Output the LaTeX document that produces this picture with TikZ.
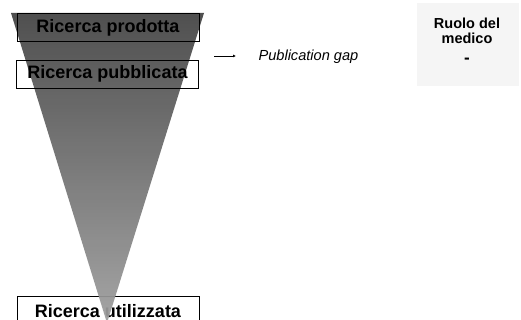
\documentclass[tikz,border=0pt]{standalone}
\usepackage{fontspec}
\setmainfont{Liberation Sans}
\usetikzlibrary{arrows.meta}
\begin{document}
\begin{tikzpicture}[x=1pt,y=-1pt,
  stage/.style={draw=black,line width=0.8pt,minimum width=182pt,minimum height=28pt,inner sep=0pt,font=\fontsize{18}{20}\bfseries},
  note/.style={font=\fontsize{14.6}{16}\itshape},
  rolebox/.style={fill=black!4,minimum width=102pt,minimum height=83pt,inner sep=0pt},
  roletext/.style={inner sep=0pt,align=center,font=\fontsize{14.5}{15}\bfseries}]
\useasboundingbox (0,0) rectangle (521,320);
% bottom stage under the funnel
\node[stage,minimum height=30pt] (use) at (108,311) {Ricerca utilizzata};
% funnel
\coordinate (tl) at (11,13);
\coordinate (tr) at (204,13);
\coordinate (ap) at (107,323);
\shade[top color=black!74,bottom color=black!38,opacity=0.93] (tl) -- (tr) -- (ap) -- cycle;
\node[stage] (prod) at (108,27.5) {Ricerca prodotta};
\node[stage] (pub) at (107.5,74) {Ricerca pubblicata};
\coordinate (a0) at (214,56);
\coordinate (a1) at (236,56);
\draw[-{Latex[length=3pt,width=3pt]},line width=0.6pt] (a0) -- (a1);
\node[note,anchor=west] (gap) at (255,57) {Publication gap};
\node[rolebox] (ruolo) at (468,44.5) {};
\node[roletext,anchor=north] (ruolotxt) at (467,17.5) {Ruolo del\\medico\\[5pt]{\fontsize{17}{17}\selectfont -}};
\end{tikzpicture}
\end{document}
